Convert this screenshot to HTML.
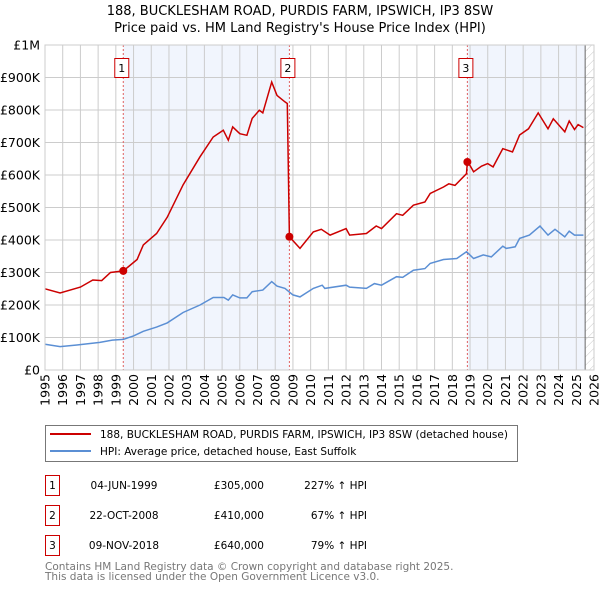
<!DOCTYPE html>
<html><head><meta charset="utf-8"><style>
body{margin:0;background:#fff;font-family:"Liberation Sans","DejaVu Sans",sans-serif;}
svg text{font-family:"DejaVu Sans","Liberation Sans",sans-serif;}
</style></head><body>
<svg id="chart" width="600" height="590" viewBox="0 0 600 590" xmlns="http://www.w3.org/2000/svg">
<defs><pattern id="hatch" width="6" height="6" patternUnits="userSpaceOnUse" patternTransform="rotate(45)"><line x1="0" y1="0" x2="0" y2="6" stroke="#bbb" stroke-width="0.8"/></pattern></defs>
<text x="300" y="15" text-anchor="middle" font-size="13" fill="#000">188, BUCKLESHAM ROAD, PURDIS FARM, IPSWICH, IP3 8SW</text>
<text x="300" y="32" text-anchor="middle" font-size="13" fill="#000">Price paid vs. HM Land Registry's House Price Index (HPI)</text>
<g id="plot"></g>
<g>
<rect x="45.5" y="425.5" width="472" height="36" fill="#fff" stroke="#777"/>
<line x1="50" y1="434" x2="91" y2="434" stroke="#cc0000" stroke-width="2"/>
<text x="100" y="438" font-size="10.5">188, BUCKLESHAM ROAD, PURDIS FARM, IPSWICH, IP3 8SW (detached house)</text>
<line x1="50" y1="451" x2="91" y2="451" stroke="#5b8fd4" stroke-width="2"/>
<text x="100" y="455" font-size="10.5">HPI: Average price, detached house, East Suffolk</text>
</g>
<g font-size="10.5">
<rect x="45.5" y="475.5" width="14" height="20" fill="#fff" stroke="#cc0000"/><text x="52.5" y="489" text-anchor="middle">1</text>
<text x="124" y="489" text-anchor="middle">04-JUN-1999</text>
<text x="264" y="489" text-anchor="end">£305,000</text>
<text x="367" y="489" text-anchor="end">227% ↑ HPI</text>
<rect x="45.5" y="505.5" width="14" height="20" fill="#fff" stroke="#cc0000"/><text x="52.5" y="519" text-anchor="middle">2</text>
<text x="124" y="519" text-anchor="middle">22-OCT-2008</text>
<text x="264" y="519" text-anchor="end">£410,000</text>
<text x="367" y="519" text-anchor="end">67% ↑ HPI</text>
<rect x="45.5" y="535.5" width="14" height="20" fill="#fff" stroke="#cc0000"/><text x="52.5" y="549" text-anchor="middle">3</text>
<text x="124" y="549" text-anchor="middle">09-NOV-2018</text>
<text x="264" y="549" text-anchor="end">£640,000</text>
<text x="367" y="549" text-anchor="end">79% ↑ HPI</text>
</g>
<text x="45" y="570" font-size="10.5" fill="#777">Contains HM Land Registry data © Crown copyright and database right 2025.</text>
<text x="45" y="580" font-size="10.5" fill="#777">This data is licensed under the Open Government Licence v3.0.</text>
</svg>
<script>
const yTicks=[0,100,200,300,400,500,600,700,800,900,1000];
const yTickLabels=["£0","£100K","£200K","£300K","£400K","£500K","£600K","£700K","£800K","£900K","£1M"];
const xYears=[1995,1996,1997,1998,1999,2000,2001,2002,2003,2004,2005,2006,2007,2008,2009,2010,2011,2012,2013,2014,2015,2016,2017,2018,2019,2020,2021,2022,2023,2024,2025,2026];
const hpiT=[1995,1995.85,1996.8,1998.1,1998.8,1999.42,2000,2000.55,2001.3,2001.9,2002.8,2003.75,2004.5,2005.1,2005.35,2005.6,2006,2006.4,2006.7,2007.3,2007.8,2008.1,2008.55,2009,2009.4,2010.15,2010.65,2010.8,2012,2012.2,2013.15,2013.6,2014,2014.85,2015.2,2015.8,2016.45,2016.75,2017.5,2018.25,2018.8,2019.2,2019.75,2020.2,2020.85,2021.05,2021.55,2021.8,2022.35,2022.95,2023.4,2023.8,2024.35,2024.6,2024.9,2025.4];
const hpiV=[79,72,77,85,92,94,105,119,132,145,177,200,223,223,215,231,222,222,241,246,272,258,251,231,225,251,261,251,261,255,251,266,261,287,285,307,312,328,340,343,364,343,354,348,381,374,379,405,415,443,415,433,410,427,415,415];
const redT=[1995,1995.85,1997,1997.7,1998.2,1998.7,1999.42,2000.2,2000.55,2001.3,2001.9,2002.8,2003.75,2004.5,2005.07,2005.35,2005.6,2006,2006.4,2006.7,2007.1,2007.3,2007.8,2008.1,2008.55,2008.68,2008.8,2009.4,2010.15,2010.6,2011.1,2012,2012.2,2013.15,2013.7,2014,2014.85,2015.2,2015.8,2016.45,2016.75,2017.5,2017.8,2018.15,2018.8,2018.85,2019.2,2019.65,2020,2020.3,2020.85,2021.4,2021.8,2022.3,2022.85,2023.4,2023.7,2024.35,2024.6,2024.9,2025.1,2025.4];
const redV=[250,237,255,277,275,300,305,340,385,420,470,570,656,717,738,707,748,727,722,774,799,791,886,845,825,820,410,374,425,433,415,435,415,420,443,435,481,476,507,517,543,563,573,568,604,643,610,627,635,625,681,671,723,742,791,742,773,733,766,740,755,746];
const saleT=[1999.42,2008.8,2018.85];
const saleV=[305,410,640];
const saleLabels=["1","2","3"];

const X0=45,X1=594,Y0=370,Y1=45;
const x=t=>X0+(t-1995)/(2026-1995)*(X1-X0);
const y=v=>Y0-v/1000*(Y0-Y1);
const NS="http://www.w3.org/2000/svg";
const g=document.getElementById('plot');
function mk(tag,attrs){const e=document.createElementNS(NS,tag);for(const k in attrs)e.setAttribute(k,attrs[k]);g.appendChild(e);return e;}
let e;
e=mk('rect',{x:x(saleT[0]),y:Y1,width:x(saleT[1])-x(saleT[0]),height:Y0-Y1,fill:'#eef3fc',opacity:0.8});


e=mk('rect',{x:x(saleT[2]),y:Y1,width:x(2025.5)-x(saleT[2]),height:Y0-Y1,fill:'#eef3fc',opacity:0.8});


e=mk('rect',{x:x(2025.5),y:Y1,width:X1-x(2025.5),height:Y0-Y1,fill:'url(#hatch)'});


yTicks.forEach((v,i)=>{
 e=mk('line',{x1:X0,x2:X1,y1:y(v),y2:y(v),stroke:'#ccc','stroke-width':1});
 
 
 e=mk('text',{x:X0-5,y:y(v)+4.5,'text-anchor':'end','font-size':12.5});
 e.textContent=yTickLabels[i];
 
 
});
xYears.forEach(t=>{
 e=mk('line',{x1:x(t),x2:x(t),y1:Y1,y2:Y0,stroke:'#ccc','stroke-width':1});
 
 
 e=mk('text',{x:0,y:0,'text-anchor':'end','font-size':12.5,transform:`translate(${x(t)+4.5},${Y0+4}) rotate(-90)`});
 e.textContent=t;
 
 
});
e=mk('line',{x1:x(2025.5),x2:x(2025.5),y1:Y1,y2:Y0,stroke:'#666','stroke-width':1});


saleT.forEach((t,i)=>{
 e=mk('line',{x1:x(t),x2:x(t),y1:Y1,y2:Y0,stroke:'#e06060','stroke-width':1,'stroke-dasharray':'2,2'});
 
 
});
function path(T,V){return T.map((t,i)=>(i?'L':'M')+x(t).toFixed(1)+','+y(V[i]).toFixed(1)).join('');}
e=mk('path',{d:path(hpiT,hpiV),fill:'none',stroke:'#5b8fd4','stroke-width':1.5});


e=mk('path',{d:path(redT,redV),fill:'none',stroke:'#cc0000','stroke-width':1.5});


saleT.forEach((t,i)=>{
 e=mk('circle',{cx:x(t),cy:y(saleV[i]),r:4,fill:'#cc0000'});
 
 
 e=mk('rect',{x:x(t)-8.5,y:58.5,width:14,height:19,fill:'#fff',stroke:'#cc0000'});
 
 
 e=mk('text',{x:x(t)-1.5,y:72,'text-anchor':'middle','font-size':11});
 e.textContent=saleLabels[i];
 
 
});
e=mk('rect',{x:X0,y:Y1,width:X1-X0,height:Y0-Y1,fill:'none',stroke:'#ccc'});


</script>
</body></html>
